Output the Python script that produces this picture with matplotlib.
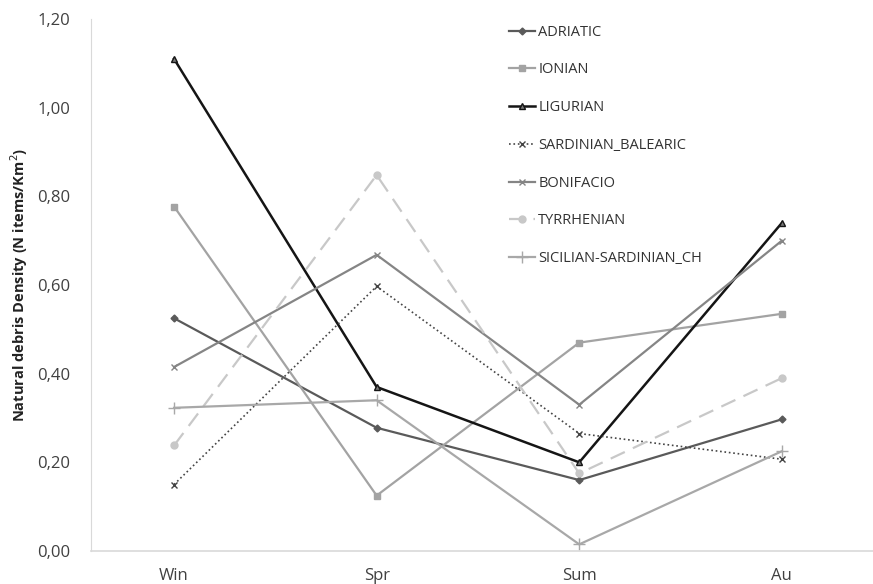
import matplotlib
matplotlib.use('Agg')
import matplotlib.pyplot as plt
from matplotlib.ticker import FuncFormatter

plt.rcParams['font.family'] = ['Open Sans', 'DejaVu Sans']

seasons = ['Win', 'Spr', 'Sum', 'Au']

adriatic = [0.525, 0.278, 0.160, 0.297]
ionian = [0.777, 0.125, 0.470, 0.535]
ligurian = [1.110, 0.370, 0.200, 0.740]
sardinian_balearic = [0.150, 0.597, 0.265, 0.207]
bonifacio = [0.415, 0.668, 0.330, 0.700]
tyrrhenian = [0.238, 0.848, 0.175, 0.390]
sicilian_sardinian = [0.323, 0.340, 0.015, 0.225]

series = [
    ('ADRIATIC', adriatic, dict(color='#5a5a5a', marker='D', ms=3.5, ls='-', lw=1.6)),
    ('IONIAN', ionian, dict(color='#a3a3a3', marker='s', ms=5, ls='-', lw=1.6)),
    ('LIGURIAN', ligurian, dict(color='#151515', marker='^', ms=5, ls='-', lw=1.8, mfc='#777777')),
    ('SARDINIAN_BALEARIC', sardinian_balearic, dict(color='#444444', marker='x', ms=5, ls=':', lw=1.2)),
    ('BONIFACIO', bonifacio, dict(color='#858585', marker='x', ms=5, ls='-', lw=1.6)),
    ('TYRRHENIAN', tyrrhenian, dict(color='#c8c8c8', marker='o', ms=5, ls=(0, (7, 4)), lw=1.6)),
    ('SICILIAN-SARDINIAN_CH', sicilian_sardinian, dict(color='#a8a8a8', marker='+', ms=9, ls='-', lw=1.6)),
]

fig = plt.figure(figsize=(8.73, 5.84), dpi=100)
ax = fig.add_axes([91 / 873, 33 / 584, 1 - 91 / 873, 532 / 584])

x = list(range(len(seasons)))
for name, vals, st in series:
    ax.plot(x, vals, label=name, **st)

ax.set_xlim(-0.41, 3.45)
ax.set_ylim(0, 1.2)
ax.set_yticks([0, 0.2, 0.4, 0.6, 0.8, 1.0, 1.2])
ax.yaxis.set_major_formatter(FuncFormatter(lambda v, p: f'{v:.2f}'.replace('.', ',')))
ax.set_xticks(x)
ax.set_xticklabels(seasons)
ax.tick_params(axis='both', length=0, labelsize=12, colors='#404040', pad=15)
ax.tick_params(axis='x', pad=12)
for s in ['top', 'right']:
    ax.spines[s].set_visible(False)
ax.spines['left'].set_color('#d9d9d9')
ax.spines['bottom'].set_color('#d9d9d9')
ax.spines['bottom'].set_linewidth(1.2)
ax.set_ylabel('Natural debris Density (N items/Km$^2$)', fontsize=10.5, fontweight='bold',
              color='#222222', labelpad=5)

ax.legend(loc='upper left', bbox_to_anchor=(0.518, 1.014), frameon=False, fontsize=10.5,
          handlelength=1.8, handletextpad=0.2, labelspacing=1.56, labelcolor='#333333')

fig.savefig('out.png', dpi=100)
